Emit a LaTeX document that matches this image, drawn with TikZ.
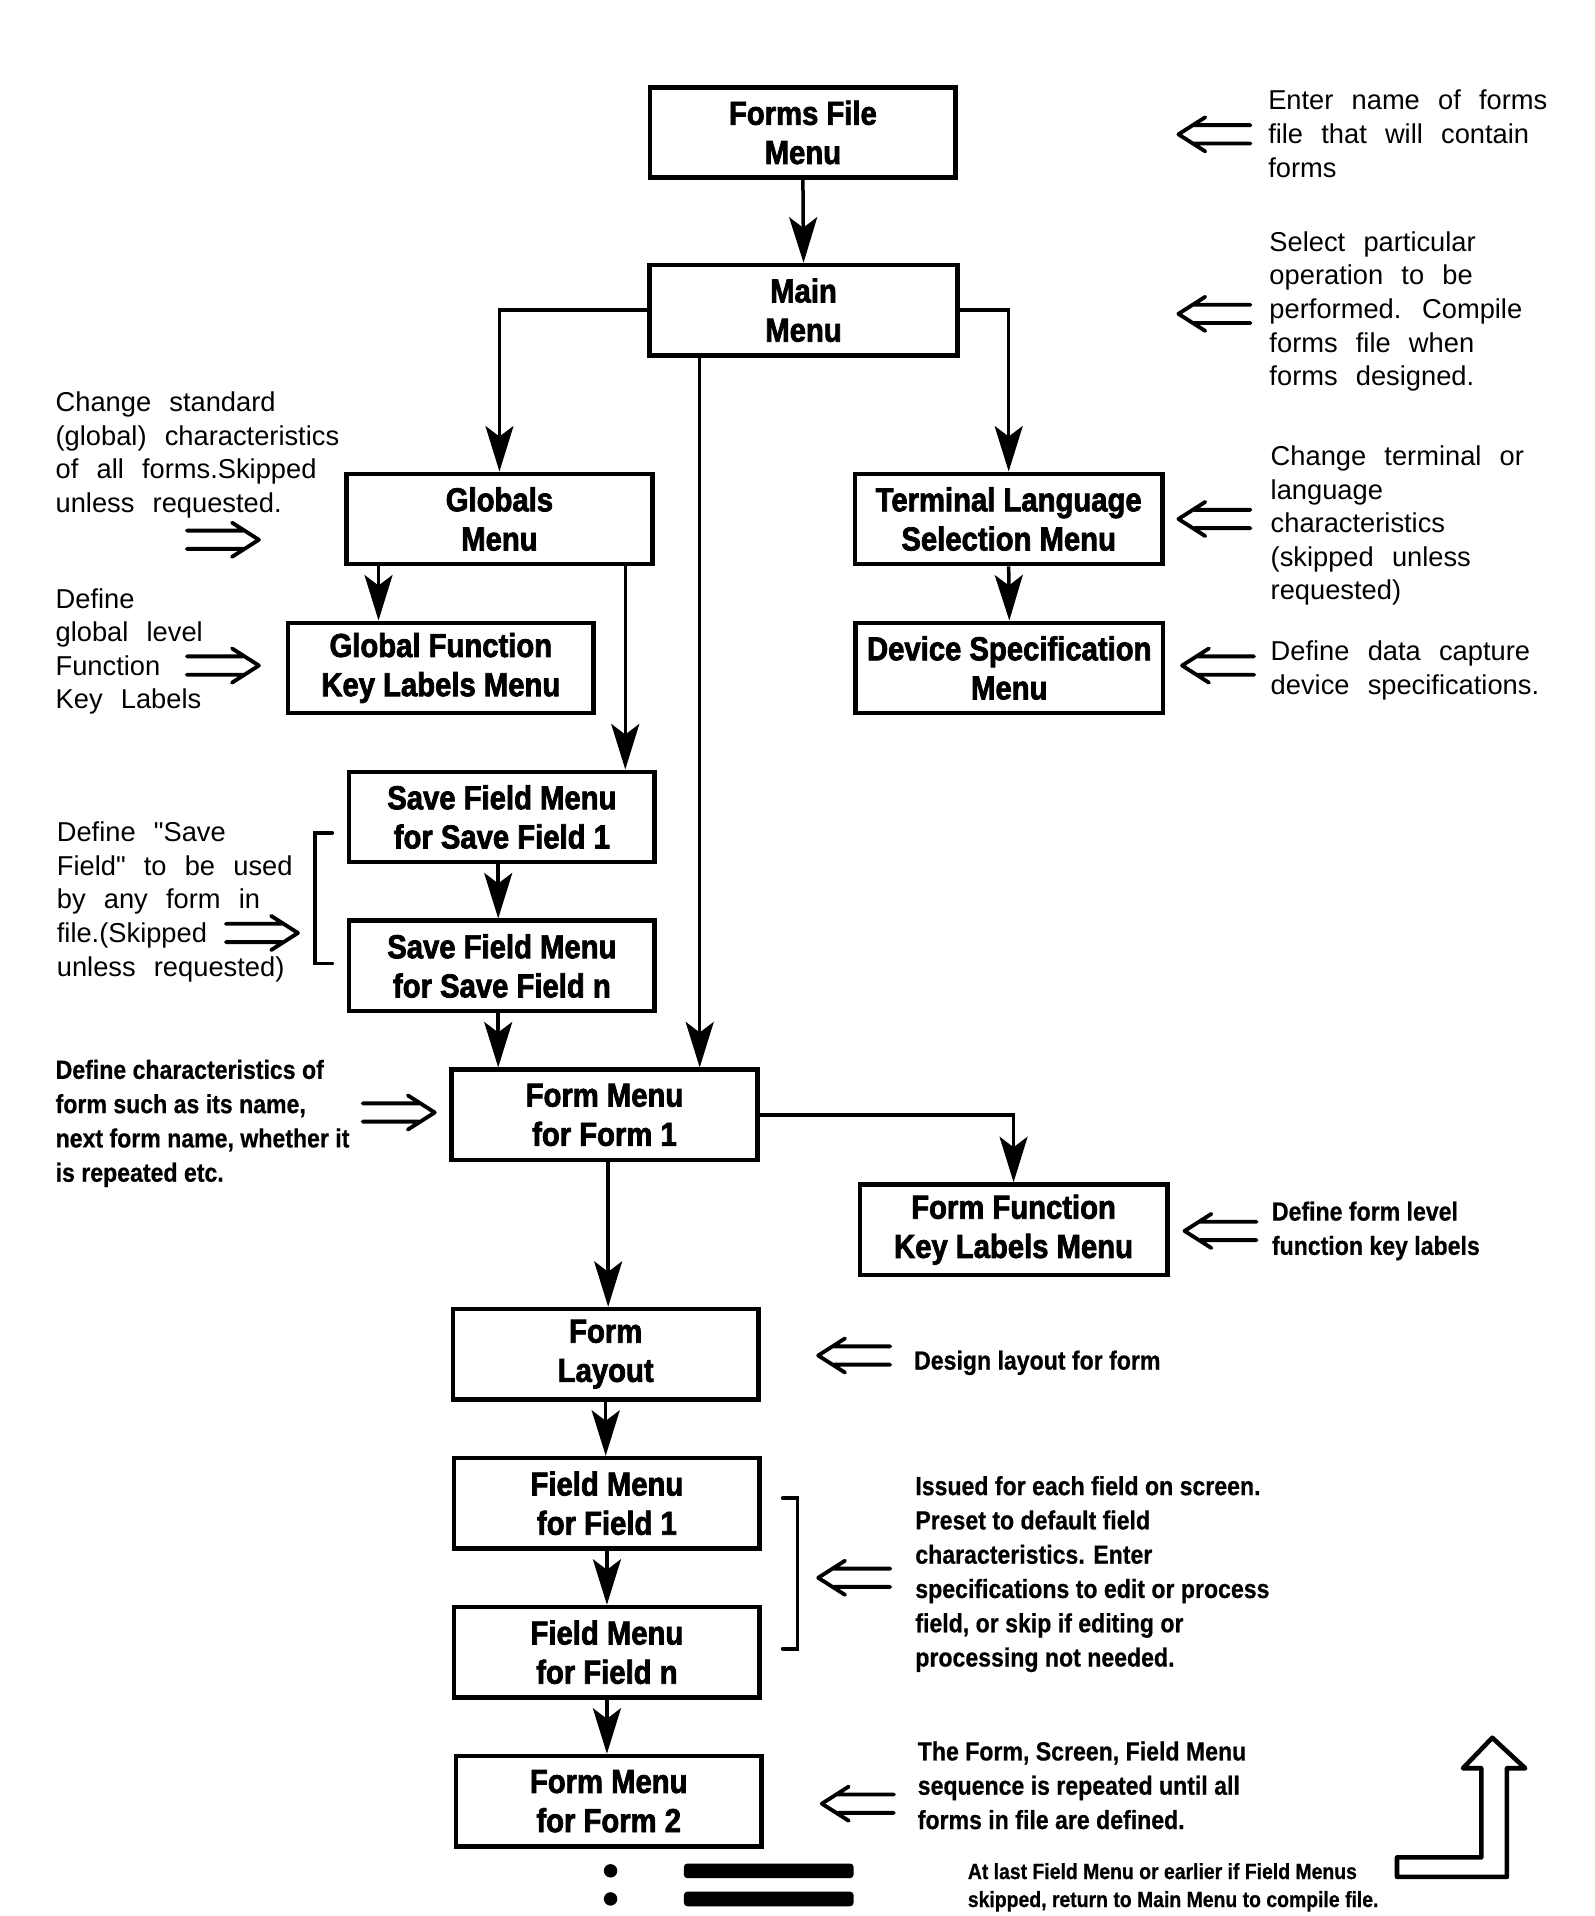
\documentclass[tikz,border=0pt]{standalone}
\usepackage{fontspec}
\setmainfont{Liberation Sans}
\newfontfamily\plotfont{Liberation Sans}[WordSpace=2.4]
\newfontfamily\boxfont{Liberation Sans}[FakeStretch=0.88,BoldFeatures={FakeBold=2.2}]
\newfontfamily\condfont{Liberation Sans}[FakeStretch=0.88,BoldFeatures={FakeBold=0.6}]
\usetikzlibrary{arrows.meta}
\begin{document}
\begin{tikzpicture}[x=0.01227cm,y=-0.01227cm,
 box/.style={draw,line width=1.3pt,minimum width=3.07cm,minimum height=0.908cm,inner sep=0pt,align=center,font=\boxfont\bfseries\fontsize{9.5}{11.2}\selectfont},
 wbox/.style={box,minimum width=3.09cm},
 conn/.style={line width=1pt,-{Stealth[length=13pt,width=8pt,inset=3pt]}},
 ann/.style={anchor=west,align=left,inner sep=0pt,font=\plotfont\fontsize{7.8}{9.6}\selectfont},
 annb/.style={anchor=west,align=left,inner sep=0pt,font=\condfont\bfseries\fontsize{7.5}{9.8}\selectfont},
 anns/.style={anchor=west,align=left,inner sep=0pt,font=\condfont\bfseries\fontsize{6.3}{8.0}\selectfont},
 hol/.style={line width=1.1pt,line cap=round,line join=round},
 rdarr/.pic={\draw[hol] (0,-7.5)--(46,-7.5) (0,7.5)--(46,7.5) (37,-14)--(59,0)--(37,14);},
 ldarr/.pic={\draw[hol] (13,-7.5)--(59,-7.5) (13,7.5)--(59,7.5) (22,-14)--(0,0)--(22,14);}
]
\useasboundingbox (0,0) rectangle (1306,1569);

% boxes
\node[box]  (ffm)    at (657.5,108.5) {Forms File\\Menu};
\node[wbox] (main)   at (658,254)     {Main\\Menu};
\node[box]  (glob)   at (409,425)     {Globals\\Menu};
\node[wbox] (term)   at (826,425)     {Terminal Language\\Selection Menu};
\node[box]  (gfk)    at (361,547)     {Global Function\\Key Labels Menu};
\node[wbox] (dev)    at (826.5,547)   {Device Specification\\Menu};
\node[box]  (sf1)    at (411,669)     {Save Field Menu\\for Save Field 1};
\node[box]  (sfn)    at (411,791)     {Save Field Menu\\for Save Field n};
\node[box]  (form1)  at (495,913)     {Form Menu\\for Form 1};
\node[wbox] (ffk)    at (830,1007)    {Form Function\\Key Labels Menu};
\node[box]  (layout) at (496,1109)    {Form\\Layout};
\node[box]  (fld1)   at (497,1231)    {Field Menu\\for Field 1};
\node[box]  (fldn)   at (497,1353)    {Field Menu\\for Field n};
\node[box]  (form2)  at (498.5,1475)  {Form Menu\\for Form 2};

% connectors
\draw[conn] (ffm.south) -- (main.north);
\draw[conn] (main.west) -| (glob.north);
\draw[conn] (main.east) -| (term.north);
\draw[conn] ([xshift=-1.043cm]main.south) -- ([xshift=-1.043cm]main.south |- form1.north);
\draw[conn] ([xshift=-1.215cm]glob.south) -- ([xshift=-1.215cm]glob.south |- gfk.north);
\draw[conn] ([xshift=1.264cm]glob.south) -- ([xshift=1.264cm]glob.south |- sf1.north);
\draw[conn] (term.south) -- (dev.north);
\draw[conn] ([xshift=-0.037cm]sf1.south) -- ([xshift=-0.037cm]sf1.south |- sfn.north);
\draw[conn] ([xshift=-0.037cm]sfn.south) -- ([xshift=-0.037cm]sfn.south |- form1.north);
\draw[conn] (form1.east) -| (ffk.north);
\draw[conn] ([xshift=0.037cm]form1.south) -- ([xshift=0.037cm]form1.south |- layout.north);
\draw[conn] (layout.south) -- (layout.south |- fld1.north);
\draw[conn] (fld1.south) -- (fldn.north);
\draw[conn] (fldn.south) -- (fldn.south |- form2.north);

% right annotations
\node[ann] (a1) at (1038,109.5) {Enter name of forms\\file that will contain\\forms};
\node[ann] (a2) at (1039,255) {Select particular\\operation to be\\performed. Compile\\forms file when\\forms designed.};
\node[ann] (a3) at (1040,430.5) {Change terminal or\\language\\characteristics\\(skipped unless\\requested)};
\node[ann] (a4) at (1040,549) {Define data capture\\device specifications.};
\node[annb] (a5) at (1041,1008) {Define form level\\function key labels};
\node[annb] (a6) at (748,1116) {Design layout for form};
\node[annb] (a7) at (749,1289) {Issued for each field on screen.\\Preset to default field\\characteristics. Enter\\specifications to edit or process\\field, or skip if editing or\\processing not needed.};
\node[annb] (a8) at (751,1462) {The Form, Screen, Field Menu\\sequence is repeated until all\\forms in file are defined.};

% left annotations
\node[ann] (l1) at (45,372.5) {Change standard\\(global) characteristics\\of all forms.Skipped\\unless requested.};
\node[ann] (l2) at (45,533.5) {Define\\global level\\Function\\Key Labels};
\node[ann] (l3) at (46,738.5) {Define "Save\\Field" to be used\\by any form in\\file.(Skipped\\unless requested)};
\node[annb] (l4) at (45,920) {Define characteristics of\\form such as its name,\\next form name, whether it\\is repeated etc.};

% hollow arrows
\pic at (965,110) {ldarr};
\pic at (965,257) {ldarr};
\pic at (965,425) {ldarr};
\pic at (968,545) {ldarr};
\pic at (970,1008) {ldarr};
\pic at (670,1110) {ldarr};
\pic at (670,1292) {ldarr};
\pic at (673,1477) {ldarr};
\pic at (153,442) {rdarr};
\pic at (153,545) {rdarr};
\pic at (185,764) {rdarr};
\pic at (297,911) {rdarr};

% brackets
\draw[line width=1.1pt,line cap=round] (272,682) -- (258,682) -- (258,789) -- (272,789);
\draw[line width=1.1pt,line cap=round] (641,1227) -- (653,1227) -- (653,1350) -- (641,1350);

% return arrow
\draw[line width=1.3pt,line join=round] (1144,1521) -- (1213,1521) -- (1213,1448) -- (1198,1448) -- (1222,1423) -- (1249,1448) -- (1234,1448) -- (1234,1537) -- (1144,1537) -- cycle;

% bottom marks
\fill (500,1532) circle[radius=5.5];
\fill (500,1555) circle[radius=5.5];
\fill[rounded corners=1pt] (560,1526) rectangle (699,1538);
\fill[rounded corners=1pt] (560,1549) rectangle (699,1561);
\node[anns] (bt) at (792,1545.5) {At last Field Menu or earlier if Field Menus\\skipped, return to Main Menu to compile file.};
\end{tikzpicture}
\end{document}
